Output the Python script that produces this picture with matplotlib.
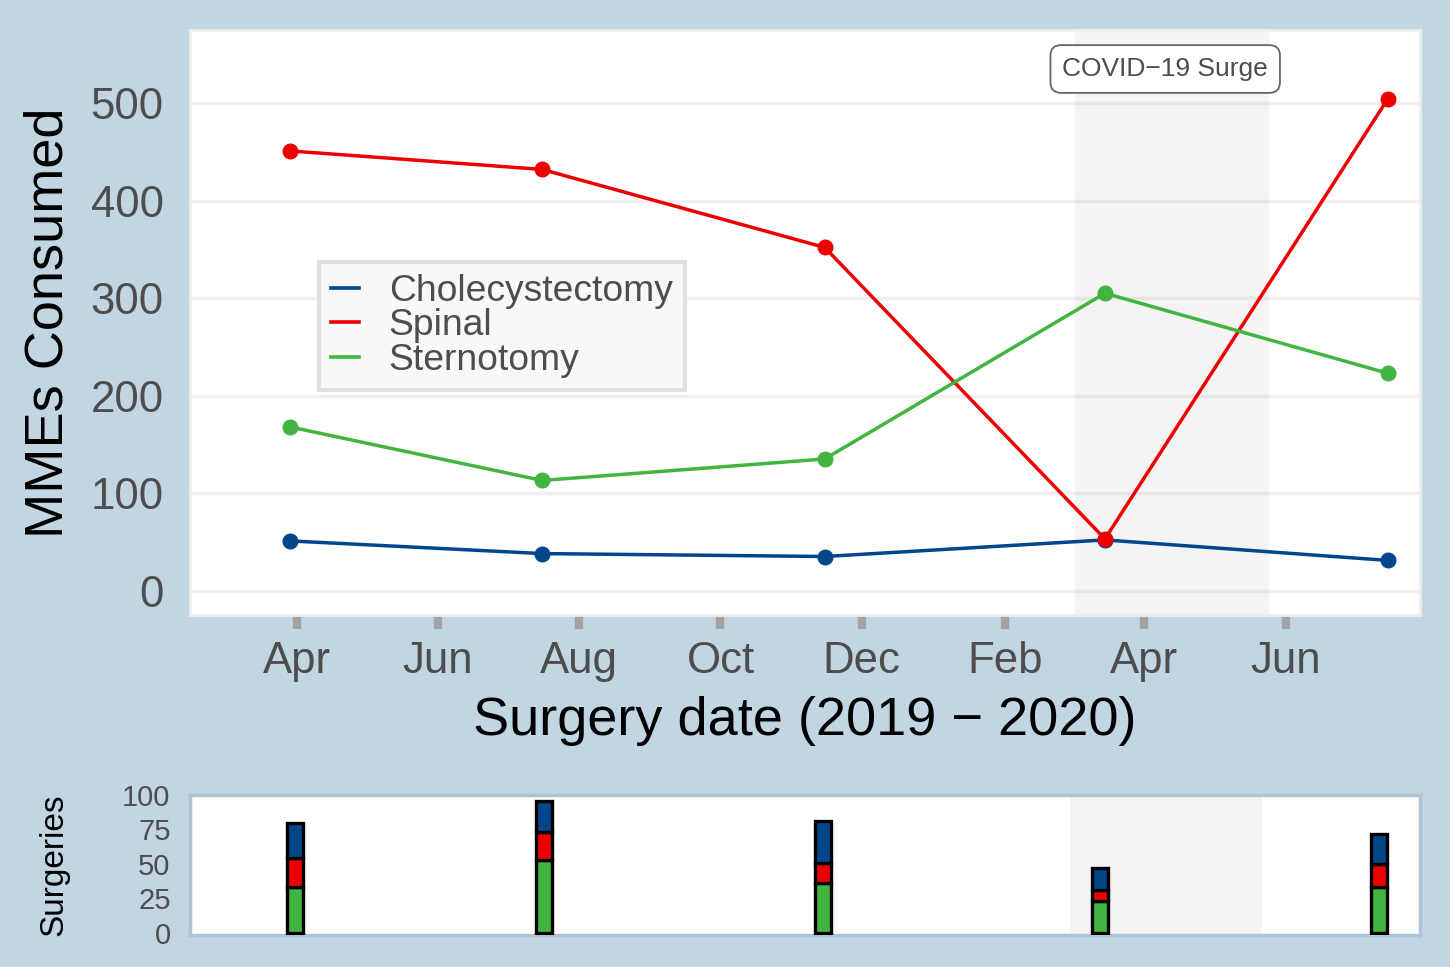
import numpy as np
import matplotlib
matplotlib.use("Agg")
import matplotlib.pyplot as plt
import matplotlib.dates as mdates
from matplotlib.lines import Line2D

plt.rcParams['font.family'] = ['Liberation Sans', 'DejaVu Sans']

# data
dates = np.array(['2019-03-29', '2019-07-16', '2019-11-15', '2020-03-15', '2020-07-15'],
                 dtype='datetime64[D]')
procedures = ['Cholecystectomy', 'Spinal', 'Sternotomy']
colors = {'Cholecystectomy': '#00468B', 'Spinal': '#ED0000', 'Sternotomy': '#42B540'}
mme = {
    'Cholecystectomy': [51, 38, 35, 52, 31],
    'Spinal': [451, 432, 352, 53, 504],
    'Sternotomy': [168, 113, 135, 305, 223],
}
surgeries = {
    'Sternotomy': [33, 53, 36, 23, 33],
    'Spinal': [21, 20, 15, 8, 17],
    'Cholecystectomy': [26, 23, 30, 16, 22],
}
stack_order = ['Sternotomy', 'Spinal', 'Cholecystectomy']
surge_start = np.datetime64('2020-03-02')
surge_end = np.datetime64('2020-05-25')
tick_dates = np.array(['2019-04-01', '2019-06-01', '2019-08-01', '2019-10-01', '2019-12-01',
                       '2020-02-01', '2020-04-01', '2020-06-01'], dtype='datetime64[D]')
tick_labels = ['Apr', 'Jun', 'Aug', 'Oct', 'Dec', 'Feb', 'Apr', 'Jun']

bg = '#c1d5e3'
txt = '#4d4d4d'

fig = plt.figure(figsize=(14.5, 9.67), dpi=100, facecolor=bg)
ax = fig.add_axes([190 / 1450, 1 - 615 / 967, 1230 / 1450, 585 / 967])
ax2 = fig.add_axes([190 / 1450, 1 - 935 / 967, 1230 / 1450, 140 / 967])

# ---- top panel: MMEs
ax.set_facecolor('white')
for y in range(0, 501, 100):
    ax.axhline(y, color='#f0f0f0', lw=2.5, zorder=0)
ax.axvspan(mdates.date2num(surge_start), mdates.date2num(surge_end),
           color='#888888', alpha=0.09, lw=0, zorder=1)
for p in procedures:
    ax.plot(mdates.date2num(dates), mme[p], color=colors[p], lw=2.5, marker='o',
            ms=10.5, zorder=3)

ax.set_xlim(mdates.date2num(np.datetime64('2019-02-14')),
            mdates.date2num(np.datetime64('2020-07-29')))
ax.set_ylim(-25, 575)
ax.set_yticks(range(0, 501, 100))
ax.set_xticks(mdates.date2num(tick_dates))
ax.set_xticklabels(tick_labels)
ax.tick_params(axis='y', length=0, pad=19, labelsize=31.5, labelcolor=txt)
ax.tick_params(axis='x', length=10, width=6, color='#a3a3a3', pad=9,
               labelsize=31.5, labelcolor=txt)
for s in ax.spines.values():
    s.set_color('#ececec')
    s.set_linewidth(2)
ax.set_ylabel('MMEs Consumed', fontsize=39, color='black', labelpad=12)
ax.set_xlabel('Surgery date (2019 \u2212 2020)', fontsize=39, color='black', labelpad=10)

ax.text(mdates.date2num(np.datetime64('2020-04-10')), 535, 'COVID\u221219 Surge',
        fontsize=19, color=txt, ha='center', va='center', zorder=5,
        bbox=dict(boxstyle='round,pad=0.45,rounding_size=0.4', fc='white',
                  ec='#666666', lw=1.3))

handles = [Line2D([], [], color=colors[p], lw=2.6) for p in procedures]
leg = ax.legend(handles, procedures, loc='upper left', bbox_to_anchor=(0.105, 0.603),
                borderaxespad=0, fontsize=26.8, frameon=True, fancybox=False,
                handlelength=0.75, handletextpad=0.8, labelspacing=-0.02, borderpad=0.32)
leg.get_frame().set_facecolor('#f8f8f8')
leg.get_frame().set_edgecolor('#e0e0e0')
leg.get_frame().set_linewidth(3)
leg.get_frame().set_alpha(1)
for t in leg.get_texts():
    t.set_color(txt)

# ---- bottom panel: surgery counts
ax2.set_facecolor('white')
ax2.axvspan(mdates.date2num(surge_start), mdates.date2num(surge_end),
            color='#888888', alpha=0.09, lw=0, zorder=1)
bottom = np.zeros(len(dates))
for p in stack_order:
    ax2.bar(mdates.date2num(dates), surgeries[p], width=7, bottom=bottom,
            color=colors[p], edgecolor='black', lw=2.4, zorder=3)
    bottom += np.array(surgeries[p])
ax2.set_xlim(mdates.date2num(np.datetime64('2019-02-11')),
             mdates.date2num(np.datetime64('2020-08-02')))
ax2.set_ylim(-1.5, 98.5)
ax2.set_yticks([0, 25, 50, 75, 100])
ax2.set_xticks([])
ax2.tick_params(axis='y', length=0, pad=14, labelsize=21, labelcolor=txt)
for s in ax2.spines.values():
    s.set_color('#aec3d3')
    s.set_linewidth(2.5)
ax2.set_ylabel('Surgeries', fontsize=24, color='black', labelpad=38)

fig.savefig('out.png', dpi=100, facecolor=bg)
